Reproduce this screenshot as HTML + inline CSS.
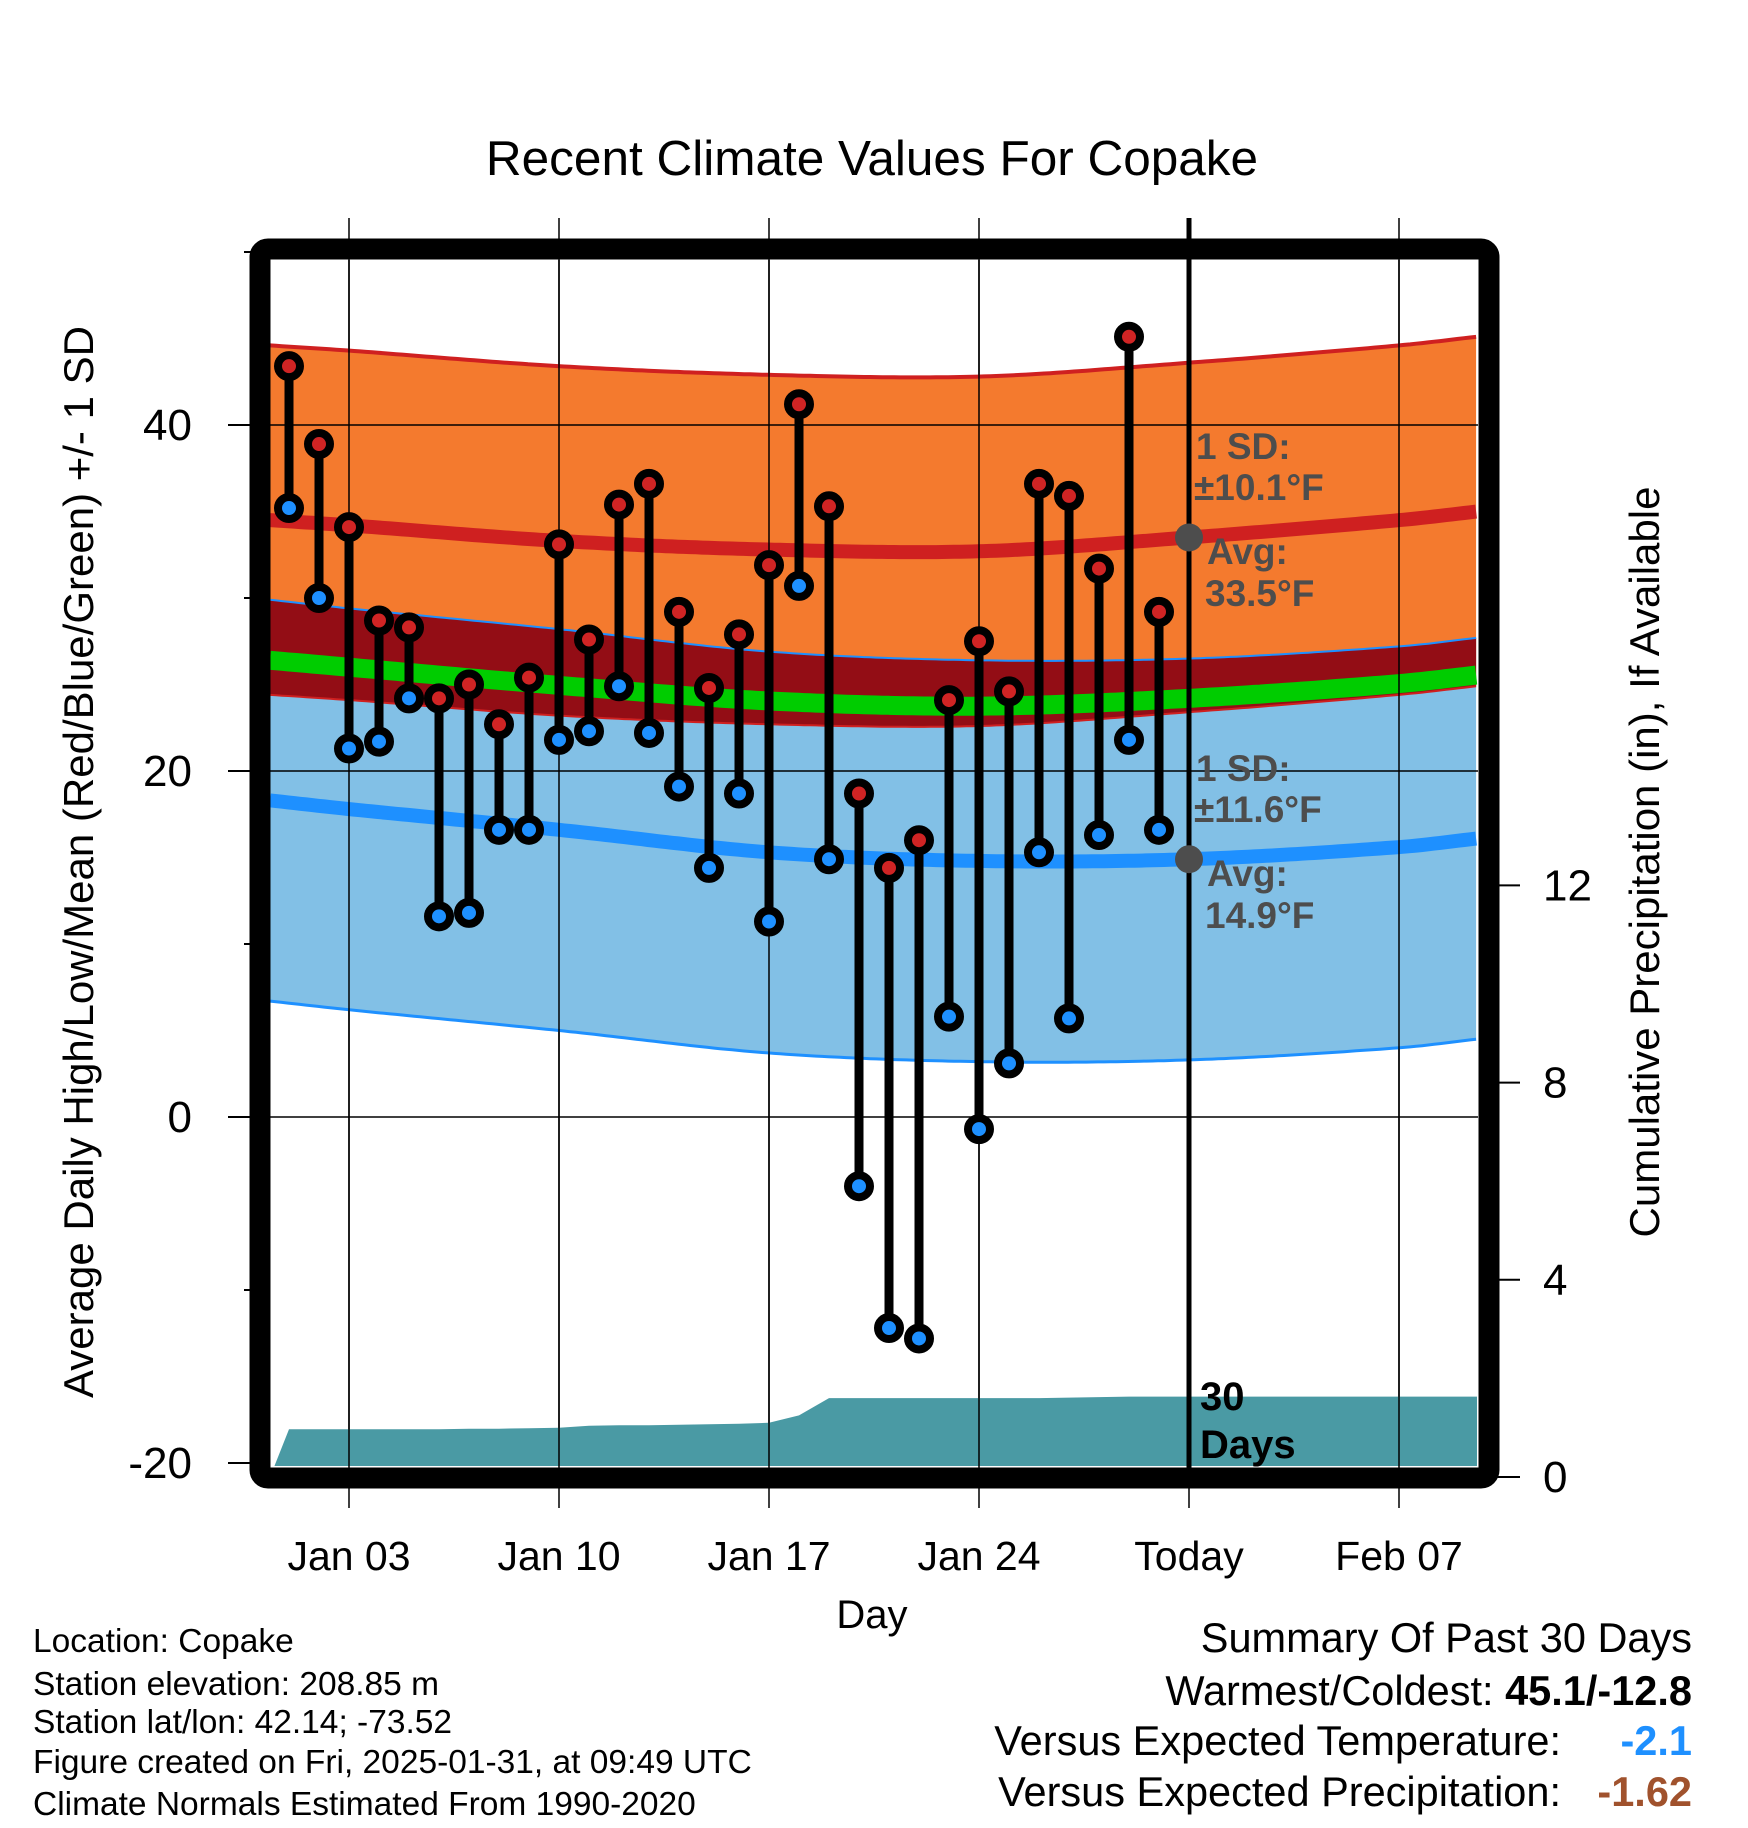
<!DOCTYPE html>
<html><head><meta charset="utf-8"><style>
html,body{margin:0;padding:0;background:#fff;}
svg{display:block;font-family:"Liberation Sans",sans-serif;}
</style></head><body>
<svg id="chart" width="1748" height="1828" viewBox="0 0 1748 1828" xmlns="http://www.w3.org/2000/svg">
<defs><clipPath id="plotclip"><rect x="270" y="260" width="1208" height="1206"/></clipPath></defs>
<text x="872" y="175" font-size="49.5" text-anchor="middle">Recent Climate Values For Copake</text>
<g id="grid"></g>
<g id="bands" clip-path="url(#plotclip)"></g>
<g id="precip" clip-path="url(#plotclip)"></g>
<g id="gridover" clip-path="url(#plotclip)"></g>
<g id="marks"></g>
<rect x="260" y="249" width="1229" height="1229" rx="8" fill="none" stroke="#000" stroke-width="21"/>
<g id="axes"></g>
<g font-weight="bold" fill="#4d4d4d" font-size="37">
<text x="1196" y="459">1 SD:</text>
<text x="1194" y="500">±10.1°F</text>
<text x="1207" y="564">Avg:</text>
<text x="1205" y="606">33.5°F</text>
<text x="1196" y="781">1 SD:</text>
<text x="1194" y="822">±11.6°F</text>
<text x="1207" y="886">Avg:</text>
<text x="1205" y="928">14.9°F</text>
</g>
<text x="1200" y="1410" font-size="40" font-weight="bold">30</text>
<text x="1200" y="1458" font-size="40" font-weight="bold">Days</text>
<text x="872" y="1628" font-size="40" text-anchor="middle">Day</text>
<text transform="translate(93,862) rotate(-90)" font-size="42" text-anchor="middle">Average Daily High/Low/Mean (Red/Blue/Green) +/- 1 SD</text>
<text transform="translate(1659,862) rotate(-90)" font-size="42" text-anchor="middle">Cumulative Precipitation (in), If Available</text>
<g font-size="33.5">
<text x="33" y="1652">Location: Copake</text>
<text x="33" y="1695">Station elevation: 208.85 m</text>
<text x="33" y="1733">Station lat/lon: 42.14; -73.52</text>
<text x="33" y="1773">Figure created on Fri, 2025-01-31, at 09:49 UTC</text>
<text x="33" y="1815">Climate Normals Estimated From 1990-2020</text>
</g>
<g font-size="41.5" text-anchor="end">
<text x="1692" y="1652">Summary Of Past 30 Days</text>
<text x="1692" y="1705">Warmest/Coldest: <tspan font-weight="bold">45.1/-12.8</tspan></text>
<text x="1561" y="1755">Versus Expected Temperature:</text>
<text x="1692" y="1755" font-weight="bold" fill="#1e90ff">-2.1</text>
<text x="1561" y="1806">Versus Expected Precipitation:</text>
<text x="1692" y="1806" font-weight="bold" fill="#a0522d">-1.62</text>
</g>
</svg>
<script>
const days=[1,2,3,4,5,6,7,8,9,10,11,12,13,14,15,16,17,18,19,20,21,22,23,24,25,26,27,28,29,30];
const highs=[43.4,38.9,34.1,28.7,28.3,24.2,25.0,22.7,25.4,33.1,27.6,35.4,36.6,29.2,24.8,27.9,31.9,41.2,35.3,18.7,14.4,16.0,24.1,27.5,24.6,36.6,35.9,31.7,45.1,29.2];
const lows=[35.2,30.0,21.3,21.7,24.2,11.6,11.8,16.6,16.6,21.8,22.3,24.9,22.2,19.1,14.4,18.7,11.3,30.7,14.9,-4.0,-12.2,-12.8,5.8,-0.7,3.1,15.3,5.7,16.3,21.8,16.6];
const precipCum=[0.97,0.97,0.97,0.97,0.97,0.97,0.98,0.98,0.99,1.0,1.04,1.05,1.05,1.06,1.07,1.08,1.1,1.25,1.6,1.6,1.6,1.6,1.6,1.6,1.6,1.6,1.61,1.62,1.63,1.63];
const normDays=[0.37,3,10,17,24,31,38,40.6];
const normHigh=[34.5,34.2,33.3,32.8,32.7,33.5,34.5,35.0];
const normLow=[18.3,17.8,16.6,15.3,14.8,14.9,15.6,16.1];
const highSD=10.1, lowSD=11.6;
const tempTicks=[-20,0,20,40];
const precipTicks=[0,4,8,12];
const dateTicks=[3,10,17,24,31,38];
const dateLabels=["Jan 03","Jan 10","Jan 17","Jan 24","Today","Feb 07"];

const NS="http://www.w3.org/2000/svg";
const X=d=>289+(d-1)*30;
const Y=v=>1117-17.3*v;
const P=v=>1477-49.3*v;
function mk(tag,attrs,parent){const e=document.createElementNS(NS,tag);for(const k in attrs)e.setAttribute(k,attrs[k]);parent.appendChild(e);return e;}
function interp(xs,ys,x){
  const n=xs.length;
  for(let i=0;i<n-1;i++){
    if(x<=xs[i+1]||i==n-2){
      const h=xs[i+1]-xs[i], t=(x-xs[i])/h;
      const m=j=>{if(j<=0)return (ys[1]-ys[0])/(xs[1]-xs[0]);if(j>=n-1)return (ys[n-1]-ys[n-2])/(xs[n-1]-xs[n-2]);return (ys[j+1]-ys[j-1])/(xs[j+1]-xs[j-1]);};
      const t2=t*t,t3=t2*t;
      return (2*t3-3*t2+1)*ys[i]+(t3-2*t2+t)*h*m(i)+(-2*t3+3*t2)*ys[i+1]+(t3-t2)*h*m(i+1);
    }
  }
  return ys[n-1];
}
const sampleD=[];for(let d=normDays[0];d<=normDays[normDays.length-1]+0.001;d+=0.2)sampleD.push(d);
const curve=f=>sampleD.map(d=>[X(d),Y(f(d))]);
const hA=d=>interp(normDays,normHigh,d), lA=d=>interp(normDays,normLow,d);
const pts=a=>a.map(p=>p[0].toFixed(1)+","+p[1].toFixed(1)).join(" ");

const bands=document.getElementById('bands');
const lowTop=curve(d=>lA(d)+lowSD), lowBot=curve(d=>lA(d)-lowSD);
const hiTop=curve(d=>hA(d)+highSD), hiBot=curve(d=>hA(d)-highSD);
let e;
e=mk('polygon',{points:pts(lowTop.concat(lowBot.slice().reverse())),fill:'#82c0e6'},bands);

e=mk('polygon',{points:pts(hiTop.concat(hiBot.slice().reverse())),fill:'#f47a2e'},bands);

e=mk('polygon',{points:pts(lowTop.concat(hiBot.slice().reverse())),fill:'#930d15'},bands);

e=mk('polyline',{points:pts(hiTop),fill:'none',stroke:'#cf2020',"stroke-width":4},bands);

e=mk('polyline',{points:pts(hiBot),fill:'none',stroke:'#cf2020',"stroke-width":2},bands);

e=mk('polyline',{points:pts(lowTop),fill:'none',stroke:'#1e90ff',"stroke-width":2},bands);

e=mk('polyline',{points:pts(lowBot),fill:'none',stroke:'#1e90ff',"stroke-width":3},bands);

e=mk('polyline',{points:pts(curve(d=>(hA(d)+lA(d))/2)),fill:'none',stroke:'#00cc00',"stroke-width":19},bands);

e=mk('polyline',{points:pts(curve(hA)),fill:'none',stroke:'#cf2020',"stroke-width":14},bands);

e=mk('polyline',{points:pts(curve(lA)),fill:'none',stroke:'#1e90ff',"stroke-width":14},bands);


// precip
const pg=document.getElementById('precip');
let pp=[[X(0.37),P(0)]];
days.forEach((d,i)=>pp.push([X(d),P(precipCum[i])]));
pp.push([X(40.6),P(precipCum[precipCum.length-1])]);
pp.push([X(40.6),P(0)+20]);pp.push([X(0.37),P(0)+20]);
e=mk('polygon',{points:pts(pp),fill:'#4a9aa4'},pg);


// grid
const grid=document.getElementById('grid'), go=document.getElementById('gridover');
dateTicks.forEach(d=>{
  e=mk('line',{x1:X(d),x2:X(d),y1:218,y2:1508,stroke:'#000','stroke-width':1.5},grid);
  
  e=mk('line',{x1:X(d),x2:X(d),y1:218,y2:1508,stroke:'#000','stroke-width':1.5},go);
  
});
tempTicks.forEach(v=>{
  if(Y(v)>1440)return;
  e=mk('line',{x1:270,x2:1478,y1:Y(v),y2:Y(v),stroke:'#000','stroke-width':1.5},go);
  
});

// axes
const ax=document.getElementById('axes');
tempTicks.forEach(v=>{
  e=mk('line',{x1:228,x2:260,y1:Y(v),y2:Y(v),stroke:'#000','stroke-width':2},ax);
  
  e=mk('text',{x:192,y:Y(v)+15,'font-size':44,'text-anchor':'end'},ax);e.textContent=v;
  
});
[-10,10,30,50].forEach(v=>{
  e=mk('line',{x1:244,x2:260,y1:Y(v),y2:Y(v),stroke:'#000','stroke-width':2},ax);
  
});
precipTicks.forEach(v=>{
  e=mk('line',{x1:1489,x2:1520,y1:P(v),y2:P(v),stroke:'#000','stroke-width':2},ax);
  
  e=mk('text',{x:1543,y:P(v)+15,'font-size':44},ax);e.textContent=v;
  
});
dateTicks.forEach((d,i)=>{
  e=mk('text',{x:X(d),y:1570,'font-size':41,'text-anchor':'middle'},ax);e.textContent=dateLabels[i];
  
});

// today line & markers
const mg=document.getElementById('marks');
e=mk('line',{x1:X(31),x2:X(31),y1:218,y2:1470,stroke:'#000','stroke-width':5},mg);

e=mk('circle',{cx:X(31),cy:Y(hA(31)),r:14,fill:'#4d4d4d'},mg);

e=mk('circle',{cx:X(31),cy:Y(lA(31)),r:14,fill:'#4d4d4d'},mg);

days.forEach((d,i)=>{
  e=mk('line',{x1:X(d),x2:X(d),y1:Y(highs[i]),y2:Y(lows[i]),stroke:'#000','stroke-width':9},mg);
  
});
days.forEach((d,i)=>{
  e=mk('circle',{cx:X(d),cy:Y(highs[i]),r:11,fill:'#d02424',stroke:'#000','stroke-width':8},mg);
  
  e=mk('circle',{cx:X(d),cy:Y(lows[i]),r:11,fill:'#1e90ff',stroke:'#000','stroke-width':8},mg);
  
});
</script>
</body></html>
